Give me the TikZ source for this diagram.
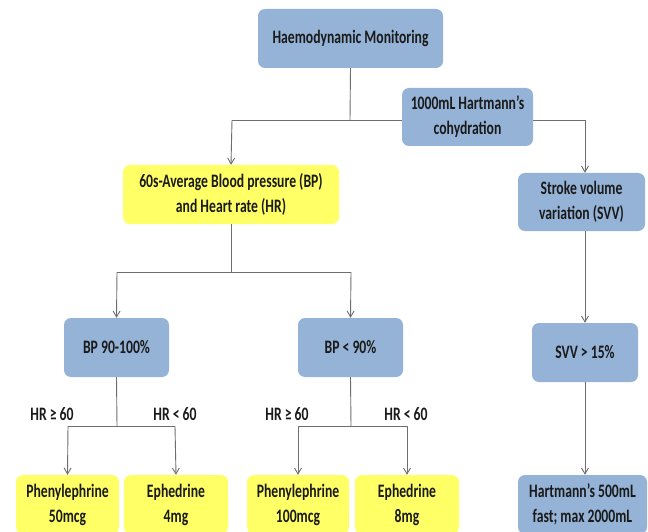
\documentclass[tikz,border=0pt]{standalone}
\usepackage{fontspec}
\setmainfont{Carlito}[FakeStretch=0.72]
\usetikzlibrary{arrows.meta}
\definecolor{boxblue}{HTML}{95B3D7}
\definecolor{boxyellow}{HTML}{FFFF66}
\definecolor{linegray}{HTML}{6E6E6E}
\definecolor{txt}{HTML}{1A1A1A}
\begin{document}
\begin{tikzpicture}[x=1pt,y=-1pt,
  base/.style={rounded corners=7pt, inner sep=0pt, align=center, text=txt,
    font=\fontsize{19}{25}\selectfont\bfseries},
  bluebox/.style={base, fill=boxblue},
  yellowbox/.style={base, fill=boxyellow},
  conn/.style={draw=linegray, line width=0.9pt},
  arr/.style={conn, -{Straight Barb[length=6pt,width=7pt]}},
  lbl/.style={text=txt, inner sep=0pt, font=\fontsize{19}{25}\selectfont\bfseries}]
\useasboundingbox (0,0) rectangle (648,532);
\clip (0,0) rectangle (648,532);
\fill[white] (0,0) rectangle (648,532);

% coordinates for branch points
\coordinate (j1) at (350,120);
\coordinate (jl) at (232,120);
\coordinate (jr) at (585,120);
\coordinate (j2) at (231,272);
\coordinate (j2l) at (117,272);
\coordinate (j2r) at (351,272);
\coordinate (j3) at (117,426);
\coordinate (j3l) at (68,426);
\coordinate (j3r) at (175,426);
\coordinate (j4) at (351,426);
\coordinate (j4l) at (298,426);
\coordinate (j4r) at (407,426);

% nodes
\node[bluebox, minimum width=185pt, minimum height=59pt] (hm) at (350.5,38.5) {Haemodynamic Monitoring};
\node[yellowbox, minimum width=216pt, minimum height=59pt] (avg) at (231,194.5) {60s-Average Blood pressure (BP)\\and Heart rate (HR)};
\node[bluebox, minimum width=127pt, minimum height=58pt] (sv) at (581.5,202) {Stroke volume\\variation (SVV)};
\node[bluebox, minimum width=105pt, minimum height=59pt] (bp1) at (116.5,347.5) {BP 90-100\%};
\node[bluebox, minimum width=105pt, minimum height=59pt] (bp2) at (350.5,347.5) {BP < 90\%};
\node[bluebox, minimum width=106pt, minimum height=59pt] (svv) at (585,352.5) {SVV > 15\%};
\node[yellowbox, minimum width=103pt, minimum height=59pt] (ph1) at (67.5,504.5) {Phenylephrine\\50mcg};
\node[yellowbox, minimum width=104pt, minimum height=59pt] (ep1) at (176,504.5) {Ephedrine\\4mg};
\node[yellowbox, minimum width=102pt, minimum height=59pt] (ph2) at (298,504.5) {Phenylephrine\\100mcg};
\node[yellowbox, minimum width=104pt, minimum height=59pt] (ep2) at (407,504.5) {Ephedrine\\8mg};
\node[bluebox, minimum width=129pt, minimum height=59pt] (hart) at (582.5,504.5) {Hartmann's 500mL\\fast; max 2000mL};

% connectors (top level)
\draw[conn] (hm.south) -- (j1);
\draw[conn] (jl) -- (jr);
\draw[arr] (jl) -- (avg.north);
\draw[arr] (jr) -- (jr |- sv.north);

% cohydration box over the line
\node[bluebox, minimum width=131pt, minimum height=58pt] (hc) at (467.5,117) {1000mL Hartmann's\\cohydration};

% second level
\draw[conn] (avg.south) -- (j2);
\draw[conn] (j2l) -- (j2r);
\draw[arr] (j2l) -- (bp1.north);
\draw[arr] (j2r) -- (bp2.north);
\draw[arr] (sv.south -| svv.north) -- (svv.north);

% third level
\draw[conn] (bp1.south) -- (j3);
\draw[conn] (j3l) -- (j3r);
\draw[arr] (j3l) -- (ph1.north);
\draw[arr] (j3r) -- (ep1.north);
\draw[conn] (bp2.south) -- (j4);
\draw[conn] (j4l) -- (j4r);
\draw[arr] (j4l) -- (ph2.north);
\draw[arr] (j4r) -- (ep2.north);
\draw[arr] (svv.south) -- (svv.south |- hart.north);

% labels
\node[lbl] (l1) at (52,414) {HR ≥ 60};
\node[lbl] (l2) at (175,414) {HR < 60};
\node[lbl] (l3) at (287,414) {HR ≥ 60};
\node[lbl] (l4) at (406,414) {HR < 60};
\end{tikzpicture}
\end{document}
